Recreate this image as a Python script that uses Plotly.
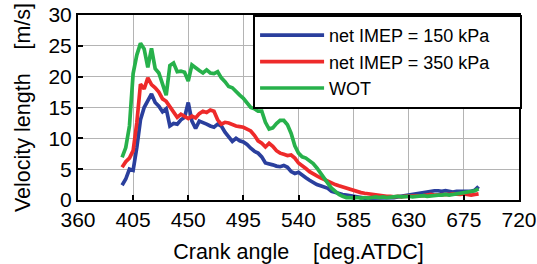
import plotly.graph_objects as go

# crank angle samples [deg.ATDC]
angle = list(range(396, 688, 3))

imep150 = [2.4, 3.4, 5.0, 4.8, 8.5, 13.0, 15.0, 16.0, 17.2, 15.8,
           15.2, 14.3, 14.8, 12.0, 12.4, 12.3, 13.0, 13.4, 15.8, 12.8,
           11.6, 12.8, 12.6, 12.3, 12.0, 11.8, 12.3, 12.0, 11.0, 10.2,
           9.5, 10.0, 9.6, 9.4, 9.0, 8.4, 7.9, 7.6, 7.0, 6.0,
           5.9, 5.7, 5.5, 5.4, 5.6, 5.3, 4.6, 4.3, 4.5, 4.0,
           3.6, 3.2, 2.8, 2.5, 2.3, 2.1, 1.9, 1.4, 1.2, 1.0,
           0.9, 0.8, 0.7, 0.5, 0.4, 0.4, 0.3, 0.3, 0.3, 0.3,
           0.3, 0.4, 0.3, 0.4, 0.4, 0.5, 0.6, 0.8, 0.9, 1.0,
           1.1, 1.1, 1.2, 1.3, 1.4, 1.5, 1.5, 1.4, 1.5, 1.4,
           1.3, 1.4, 1.4, 1.3, 1.3, 1.4, 1.6, 2.2]

imep350 = [5.3, 6.2, 6.8, 8.0, 12.5, 18.8, 18.0, 19.8, 18.7, 18.2,
           17.5, 16.4, 16.0, 15.2, 14.2, 13.4, 13.9, 13.5, 13.2, 13.6,
           13.3, 14.0, 14.4, 14.2, 14.6, 14.4, 13.0, 12.3, 12.6, 12.5,
           12.2, 12.0, 11.9, 11.8, 11.5, 11.2, 10.5, 9.6, 9.2, 8.6,
           9.2, 8.7, 8.0, 7.6, 7.4, 7.2, 7.3, 6.8, 6.0, 5.6,
           5.1, 4.6, 4.2, 3.9, 3.6, 3.3, 3.0, 2.7, 2.5, 2.3,
           2.1, 2.0, 1.8, 1.5, 1.3, 1.2, 1.1, 1.0, 0.9, 0.8,
           0.7, 0.7, 0.6, 0.6, 0.5, 0.6, 0.5, 0.6, 0.6, 0.7,
           0.6, 0.7, 0.7, 0.8, 0.9, 0.8, 0.8, 0.9, 0.8, 0.9,
           1.0, 0.9, 0.9, 1.0, 0.9, 0.8, 0.9, 1.0]

wot = [6.9, 8.5, 12.0, 20.5, 23.5, 25.4, 24.5, 21.5, 24.6, 21.3,
       20.6, 19.0, 17.0, 21.8, 22.2, 20.8, 20.9, 20.7, 19.3, 21.9,
       21.4, 21.0, 20.6, 21.1, 20.6, 20.5, 20.8, 19.8, 19.2, 18.4,
       18.2, 17.5, 17.0, 16.5, 15.8, 15.0, 14.8, 14.4, 14.4, 12.6,
       11.5, 11.7, 12.4, 12.9, 12.9, 12.2, 10.8, 8.8, 7.6, 7.0,
       6.8, 6.4, 5.9, 5.2, 4.3, 3.5, 2.7, 1.9, 1.3, 0.9,
       0.6, 0.4, 0.4, 0.3, 0.4, 0.3, 0.4, 0.3, 0.4, 0.5,
       0.4, 0.5, 0.4, 0.5, 0.5, 0.6, 0.5, 0.6, 0.6, 0.5,
       0.6, 0.6, 0.7, 0.6, 0.7, 0.7, 0.8, 0.8, 0.9, 0.8,
       0.9, 1.0, 1.1, 1.1, 1.2, 1.3, 1.5, 1.8]

series_names = ["net IMEP = 150 kPa", "net IMEP = 350 kPa", "WOT"]
series_colors = ["#2a3f9d", "#ee2a2a", "#27b14b"]
x_ticks = [360, 405, 450, 495, 540, 585, 630, 675, 720]
y_ticks = [0, 5, 10, 15, 20, 25, 30]

nb = "\u00a0"
fig = go.Figure()
for name, vals, col in zip(series_names, [imep150, imep350, wot], series_colors):
    fig.add_trace(go.Scatter(x=angle, y=vals, mode="lines", name=name + nb * 5,
                             line=dict(color=col, width=3.7)))

font_family = "Liberation Sans, Arial, sans-serif"
fig.update_layout(
    width=537, height=264,
    margin=dict(l=78, r=18, t=15, b=64),
    paper_bgcolor="white", plot_bgcolor="white",
    font=dict(family=font_family, size=21, color="black"),
    showlegend=True,
    legend=dict(x=0.397, y=1.0, xanchor="left", yanchor="top",
                bgcolor="white", bordercolor="black", borderwidth=2,
                font=dict(size=18, color="black"),
                itemwidth=64, tracegroupgap=0),
)
fig.update_xaxes(range=[360, 720], tickvals=x_ticks, automargin=False,
                 showgrid=True, gridcolor="#b4b4b4", gridwidth=1,
                 showline=True, linecolor="black", linewidth=2, mirror=True,
                 ticks="inside", ticklen=5, tickcolor="black", tickwidth=1.5,
                 zeroline=False, tickfont=dict(size=21),
                 title=dict(text="Crank angle" + nb * 4 + "[deg.ATDC]",
                            font=dict(size=21.5), standoff=15))
fig.update_yaxes(range=[0, 30], tickvals=y_ticks, automargin=False,
                 showgrid=True, gridcolor="#b4b4b4", gridwidth=1,
                 showline=True, linecolor="black", linewidth=2, mirror=True,
                 ticks="inside", ticklen=5, tickcolor="black", tickwidth=1.5,
                 zeroline=False, tickfont=dict(size=21),
                 title=dict(text="Velocity length" + nb * 4 + "[m/s]",
                            font=dict(size=21.5), standoff=12))

fig.write_html("out.html",
               config={"displayModeBar": False},
               post_script="document.body.style.margin='0';"
                           "document.body.style.overflow='hidden';")
